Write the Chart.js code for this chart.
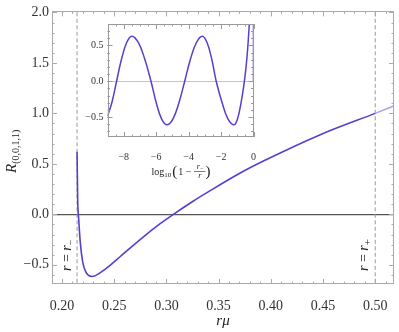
<!DOCTYPE html>
<html>
<head>
<meta charset="utf-8">
<script src="https://cdn.jsdelivr.net/npm/chart.js@4.4.1/dist/chart.umd.min.js"></script>
<style>
  body { margin: 0; background: #fff; }
  #wrap { position: relative; width: 399px; height: 332px; }
  #inset { position: absolute; left: 80px; top: 14px; }
</style>
</head>
<body>
<div id="wrap">
  <canvas id="main" width="399" height="332"></canvas>
  <canvas id="inset" width="182" height="171"></canvas>
</div>
<script>
// main plot: R vs r*mu
var rMu = [0.2144, 0.2150, 0.2160, 0.2175, 0.2198, 0.2225, 0.2255, 0.2285, 0.2320, 0.2364,
           0.2460, 0.2556, 0.2748, 0.2940, 0.3067, 0.3259, 0.3400, 0.3707, 0.3924, 0.4474, 0.5000];
var rVals = [0.62, 0.15, -0.05, -0.28, -0.47, -0.565, -0.605, -0.615, -0.607, -0.58,
             -0.505, -0.42, -0.25, -0.093, 0.0, 0.132, 0.222, 0.409, 0.525, 0.789, 1.0];
// part beyond r = r+ (drawn faded)
var tailX = [0.5000, 0.5190];
var tailY = [1.0, 1.079];

var rMinus = 0.2144;
var rPlus = 0.5;

var xTicks = [0.20, 0.25, 0.30, 0.35, 0.40, 0.45, 0.50];
var xTickLabels = ['0.20', '0.25', '0.30', '0.35', '0.40', '0.45', '0.50'];
var yTicks = [-0.5, 0, 0.5, 1.0, 1.5, 2.0];
var yTickLabels = ['\u22120.5', '0.0', '0.5', '1.0', '1.5', '2.0'];

// inset: R vs log10(1 - r-/r)
var insetX = [-9.0, -8.72, -8.44, -8.13, -7.81, -7.5, -7.11, -6.71, -6.32, -5.99, -5.66, -5.33,
              -4.97, -4.60, -4.24, -3.88, -3.51, -3.15, -2.87, -2.58, -2.3, -1.93, -1.57, -1.2,
              -0.99, -0.77, -0.56, -0.4, -0.26, -0.15];
var insetY = [-0.49, -0.29, 0.0, 0.315, 0.545, 0.63, 0.545, 0.315, 0.0, -0.305, -0.53, -0.61,
              -0.53, -0.305, 0.0, 0.315, 0.545, 0.63, 0.545, 0.315, 0.0, -0.305, -0.53, -0.61,
              -0.53, -0.305, 0.0, 0.34, 0.8, 1.3];
var insetTailX = [0, 0];
var insetTailY = [0, 0.8];

var insetXTicks = [-8, -6, -4, -2, 0];
var insetXTickLabels = ['\u22128', '\u22126', '\u22124', '\u22122', '0'];
var insetYTicks = [-0.5, 0, 0.5];
var insetYTickLabels = ['\u22120.5', '0.0', '0.5'];

var serif = "'Liberation Serif', 'DejaVu Serif', serif";
var lineCol = '#5a3dd0';
var fadeCol = '#ad9fea';

function pts(xs, ys) {
    return xs.map(function (x, i) { return { x: x, y: ys[i] }; });
}

function range(a, b, step) {
    var out = [];
    for (var v = a; v <= b + 1e-9; v += step) out.push(+v.toFixed(4));
    return out;
}

// frame with inward ticks on all four sides (Mathematica style)
function framePlugin(o) {
    return {
        id: 'frame',
        afterDatasetsDraw: function (chart) {
            var ctx = chart.ctx, a = chart.chartArea, sx = chart.scales.x, sy = chart.scales.y;
            ctx.save();
            ctx.strokeStyle = o.color;
            ctx.lineWidth = 1;
            ctx.strokeRect(Math.round(a.left) + 0.5, Math.round(a.top) + 0.5,
                Math.round(a.right - a.left) - 1, Math.round(a.bottom - a.top) - 1);
            function tick(vals, len) {
                vals.forEach(function (v) {
                    if (v < sx.min || v > sx.max) return;
                    var p = Math.round(sx.getPixelForValue(v)) + 0.5;
                    ctx.beginPath();
                    ctx.moveTo(p, a.bottom); ctx.lineTo(p, a.bottom - len);
                    ctx.moveTo(p, a.top); ctx.lineTo(p, a.top + len);
                    ctx.stroke();
                });
            }
            function ytick(vals, len) {
                vals.forEach(function (v) {
                    if (v < sy.min || v > sy.max) return;
                    var p = Math.round(sy.getPixelForValue(v)) + 0.5;
                    ctx.beginPath();
                    ctx.moveTo(a.left, p); ctx.lineTo(a.left + len, p);
                    ctx.moveTo(a.right, p); ctx.lineTo(a.right - len, p);
                    ctx.stroke();
                });
            }
            tick(o.xMinor, 2.5); tick(o.xMajor, 5);
            ytick(o.yMinor, 2.5); ytick(o.yMajor, 5);
            ctx.restore();
        }
    };
}

// draw a row of text pieces with different fonts / baseline shifts
function drawRuns(ctx, x, y, runs) {
    runs.forEach(function (r) {
        ctx.font = r.f;
        ctx.fillText(r.t, x, y + (r.dy || 0));
        x += ctx.measureText(r.t).width + (r.gap || 0);
    });
}
function runsWidth(ctx, runs) {
    var w = 0;
    runs.forEach(function (r) { ctx.font = r.f; w += ctx.measureText(r.t).width + (r.gap || 0); });
    return w;
}

var mainText = {
    id: 'mainText',
    afterDraw: function (chart) {
        var ctx = chart.ctx;
        ctx.save();
        ctx.fillStyle = '#222';
        ctx.textBaseline = 'alphabetic';
        ctx.textAlign = 'left';
        // y title R_(0,0,1,1)
        ctx.save();
        ctx.translate(16, 173);
        ctx.rotate(-Math.PI / 2);
        drawRuns(ctx, 0, 0, [
            { t: 'R', f: 'italic 15px ' + serif, gap: 0 },
            { t: '(0,0,1,1)', f: '10px ' + serif, dy: 3 }
        ]);
        ctx.restore();
        // r = r-
        var sx = chart.scales.x;
        ctx.save();
        ctx.translate(sx.getPixelForValue(rMinus) - 6, 271);
        ctx.rotate(-Math.PI / 2);
        drawRuns(ctx, 0, 0, [
            { t: 'r', f: 'italic 14px ' + serif },
            { t: ' = ', f: '14px ' + serif },
            { t: 'r', f: 'italic 14px ' + serif },
            { t: '\u2212', f: '10px ' + serif, dy: 3 }
        ]);
        ctx.restore();
        // r = r+
        ctx.save();
        ctx.translate(sx.getPixelForValue(rPlus) - 7, 271);
        ctx.rotate(-Math.PI / 2);
        drawRuns(ctx, 0, 0, [
            { t: 'r', f: 'italic 14px ' + serif },
            { t: ' = ', f: '14px ' + serif },
            { t: 'r', f: 'italic 14px ' + serif },
            { t: '+', f: '11px ' + serif, dy: 3 }
        ]);
        ctx.restore();
        ctx.restore();
    }
};

var insetText = {
    id: 'insetText',
    afterDraw: function (chart) {
        var ctx = chart.ctx;
        ctx.save();
        ctx.fillStyle = '#222';
        ctx.textBaseline = 'alphabetic';
        var base = 161;
        var pre = [
            { t: 'log', f: '10px ' + serif },
            { t: '10', f: '7px ' + serif, dy: 2, gap: 1 },
            { t: '(', f: '15px ' + serif, dy: 1, gap: 1 },
            { t: '1 \u2212 ', f: '10px ' + serif }
        ];
        ctx.font = 'italic 8px ' + serif;
        var fracW = ctx.measureText('r\u2212').width + 3;
        var post = [{ t: ')', f: '15px ' + serif, dy: 1 }];
        var total = runsWidth(ctx, pre) + fracW + runsWidth(ctx, post);
        var x0 = 101 - total / 2;
        drawRuns(ctx, x0, base, pre);
        var fx = x0 + runsWidth(ctx, pre);
        // fraction r-/r
        ctx.strokeStyle = '#222';
        ctx.lineWidth = 0.6;
        ctx.beginPath();
        ctx.moveTo(fx, base - 3.5); ctx.lineTo(fx + fracW, base - 3.5);
        ctx.stroke();
        ctx.textAlign = 'center';
        ctx.font = 'italic 8px ' + serif;
        ctx.fillText('r', fx + fracW / 2 - 1.5, base - 6);
        ctx.font = '6px ' + serif;
        ctx.fillText('\u2212', fx + fracW / 2 + 2, base - 5);
        ctx.font = 'italic 8px ' + serif;
        ctx.fillText('r', fx + fracW / 2, base + 3);
        ctx.textAlign = 'left';
        drawRuns(ctx, fx + fracW, base, post);
        ctx.restore();
    }
};

new Chart('main', {
    type: 'line',
    data: {
        datasets: [{
            data: pts(rMu, rVals),
            borderColor: lineCol,
            borderWidth: 1.6,
            pointRadius: 0,
            cubicInterpolationMode: 'monotone',
            order: 0
        }, {
            data: pts(tailX, tailY),
            borderColor: fadeCol,
            borderWidth: 1.6,
            pointRadius: 0,
            order: 1
        }, {
            data: [{ x: rMinus, y: -1 }, { x: rMinus, y: 3 }],
            borderColor: '#999',
            borderWidth: 1,
            borderDash: [4, 2.5],
            pointRadius: 0,
            order: 2
        }, {
            data: [{ x: rPlus, y: -1 }, { x: rPlus, y: 3 }],
            borderColor: '#999',
            borderWidth: 1,
            borderDash: [4, 2.5],
            pointRadius: 0,
            order: 2
        }]
    },
    options: {
        responsive: false,
        animation: false,
        layout: { padding: { left: 0, right: 5, top: 10, bottom: 0 } },
        plugins: { legend: { display: false }, tooltip: { enabled: false } },
        scales: {
            x: {
                type: 'linear',
                min: 0.1904,
                max: 0.518,
                afterBuildTicks: function (s) { s.ticks = xTicks.map(function (v) { return { value: v }; }); },
                afterFit: function (s) { s.height = 48; },
                grid: { display: false },
                border: { display: false },
                ticks: {
                    padding: 6,
                    maxRotation: 0,
                    autoSkip: false,
                    color: '#333',
                    font: { family: serif, size: 14 },
                    callback: function (v, i) { return xTickLabels[i]; }
                },
                title: {
                    display: true,
                    text: 'r\u03bc',
                    color: '#222',
                    font: { family: serif, size: 15, style: 'italic' },
                    padding: { top: 0, bottom: 2 }
                }
            },
            y: {
                min: -0.69,
                max: 2.01,
                afterBuildTicks: function (s) { s.ticks = yTicks.map(function (v) { return { value: v }; }); },
                afterFit: function (s) { s.width = 52; },
                grid: {
                    drawTicks: false,
                    lineWidth: 1.3,
                    color: function (c) { return c.tick && c.tick.value === 0 ? '#555' : 'rgba(0,0,0,0)'; }
                },
                border: { display: false },
                ticks: {
                    padding: 3,
                    color: '#333',
                    font: { family: serif, size: 14 },
                    callback: function (v, i) { return yTickLabels[i]; }
                }
            }
        }
    },
    plugins: [framePlugin({
        color: '#aaa',
        xMajor: xTicks, xMinor: range(0.19, 0.52, 0.01),
        yMajor: yTicks, yMinor: range(-0.6, 2.0, 0.1)
    }), mainText]
});

new Chart('inset', {
    type: 'line',
    data: {
        datasets: [{
            data: pts(insetX, insetY),
            borderColor: lineCol,
            borderWidth: 1.5,
            pointRadius: 0,
            tension: 0.4
        }, {
            data: pts(insetTailX, insetTailY),
            borderColor: fadeCol,
            borderWidth: 2,
            pointRadius: 0
        }]
    },
    options: {
        responsive: false,
        animation: false,
        layout: { padding: { left: 0, right: 6, top: 6, bottom: 0 } },
        plugins: { legend: { display: false }, tooltip: { enabled: false } },
        scales: {
            x: {
                type: 'linear',
                min: -9,
                max: 0,
                afterBuildTicks: function (s) { s.ticks = insetXTicks.map(function (v) { return { value: v }; }); },
                afterFit: function (s) { s.height = 48; },
                grid: { display: false },
                border: { display: false },
                ticks: {
                    padding: 6,
                    maxRotation: 0,
                    autoSkip: false,
                    color: '#333',
                    font: { family: serif, size: 10 },
                    callback: function (v, i) { return insetXTickLabels[i]; }
                }
            },
            y: {
                min: -0.78,
                max: 0.8,
                afterBuildTicks: function (s) { s.ticks = insetYTicks.map(function (v) { return { value: v }; }); },
                afterFit: function (s) { s.width = 27.5; },
                grid: {
                    drawTicks: false,
                    lineWidth: 1,
                    color: function (c) { return c.tick && c.tick.value === 0 ? '#c4c4c4' : 'rgba(0,0,0,0)'; }
                },
                border: { display: false },
                ticks: {
                    padding: 4,
                    color: '#333',
                    font: { family: serif, size: 10 },
                    callback: function (v, i) { return insetYTickLabels[i]; }
                }
            }
        }
    },
    plugins: [framePlugin({
        color: '#999',
        xMajor: insetXTicks, xMinor: range(-9, 0, 0.5),
        yMajor: insetYTicks, yMinor: range(-0.7, 0.7, 0.1)
    }), insetText]
});
</script>
</body>
</html>
